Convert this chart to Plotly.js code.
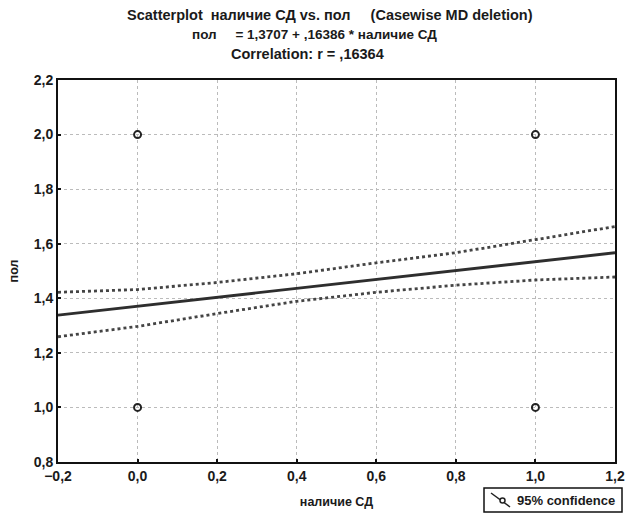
<!DOCTYPE html>
<html>
<head>
<meta charset="utf-8">
<script src="https://cdn.plot.ly/plotly-3.0.1.min.js"></script>
<style>html,body{margin:0;padding:0;background:#fff;}#chart{width:626px;height:517px;}</style>
</head>
<body>
<div id="chart"></div>
<script>
// Data
const pointsX = [0, 0, 1, 1];
const pointsY = [1.0, 2.0, 1.0, 2.0];
const regX = [-0.2, 1.2];
const regY = [1.338, 1.567];
const bandX = [-0.2, 0.0, 0.2, 0.4, 0.6, 0.8, 1.0, 1.2];
const bandUpper = [1.422, 1.432, 1.458, 1.490, 1.530, 1.567, 1.615, 1.663];
const bandLower = [1.259, 1.297, 1.344, 1.389, 1.422, 1.448, 1.467, 1.478];
const xTicks = [-0.2, 0.0, 0.2, 0.4, 0.6, 0.8, 1.0, 1.2];
const yTicks = [0.8, 1.0, 1.2, 1.4, 1.6, 1.8, 2.0, 2.2];
const NB = "\u00a0";
const titleLines = [
  "Scatterplot" + NB + " наличие СД vs. пол" + NB.repeat(4) + " (Casewise MD deletion)",
  "пол" + NB.repeat(4) + " = 1,3707 + ,16386 * наличие СД",
  "Correlation: r = ,16364"
];
const xTitle = "наличие СД";
const yTitle = "пол";
const legendLabel = "95% confidence";

const FAM = "Liberation Sans, Arial, sans-serif";
const fnt = {family: FAM, size: 13.5, color: "#1a1a1a", weight: "bold"};
const bandColor = "#444";

const traces = [
  {x: bandX, y: bandUpper, mode: "lines", line: {color: bandColor, width: 2.8, dash: "dot"},
   name: legendLabel, showlegend: false, hoverinfo: "skip"},
  {x: bandX, y: bandLower, mode: "lines", line: {color: bandColor, width: 2.8, dash: "dot"},
   showlegend: false, hoverinfo: "skip"},
  {x: regX, y: regY, mode: "lines", line: {color: "#2e2e2e", width: 2.8}, showlegend: false},
  {x: pointsX, y: pointsY, mode: "markers", showlegend: false,
   marker: {symbol: "circle-open", size: 7, color: "#222", line: {width: 2, color: "#222"}}}
];

// pixel -> paper helpers (plot area 58..615 x 80..462)
const px = v => (v - 58) / 557;
const py = v => (462 - v) / 382;

const titleX = [330, 314, 307];
const titleY = [15, 35, 54];
const titleSize = [14.5, 13.5, 14.5];
const annotations = titleLines.map((t, i) => ({
  text: t, xref: "paper", yref: "paper", x: px(titleX[i]), y: py(titleY[i]),
  xanchor: "center", yanchor: "middle", showarrow: false,
  font: {family: FAM, size: titleSize[i], color: "#1a1a1a", weight: "bold"}
}));
annotations.push({
  text: legendLabel, xref: "paper", yref: "paper", x: px(515), y: py(500),
  xanchor: "left", yanchor: "middle", showarrow: false,
  font: {family: FAM, size: 13, color: "#1a1a1a", weight: "bold"}
});

const shapes = [
  {type: "rect", xref: "paper", yref: "paper", x0: px(484), x1: px(622), y0: py(488), y1: py(512),
   line: {color: "#111", width: 1.5}, fillcolor: "#fff"},
  {type: "line", xref: "paper", yref: "paper", x0: px(491), x1: px(510), y0: py(493), y1: py(507),
   line: {color: "#222", width: 1.5}},
  {type: "circle", xref: "paper", yref: "paper", x0: px(500), x1: px(505), y0: py(498), y1: py(503),
   line: {color: "#222", width: 1.5}, fillcolor: "#fff"}
];

const axisCommon = {
  showline: true, linecolor: "#111", linewidth: 2, mirror: true,
  showgrid: true, gridcolor: "#bbb", griddash: "dot", gridwidth: 1,
  zeroline: false, ticks: "inside", ticklen: 3, tickcolor: "#111", tickwidth: 2,
  tickformat: ".1f", tickfont: {family: FAM, size: 14, color: "#1a1a1a", weight: "bold"}
};

const layout = {
  width: 626, height: 517,
  margin: {l: 58, r: 11, t: 80, b: 55, autoexpand: false},
  paper_bgcolor: "#fff", plot_bgcolor: "#fff",
  separators: ", ",
  font: fnt,
  xaxis: Object.assign({}, axisCommon, {range: [-0.2, 1.2], tickvals: xTicks, automargin: false,
    title: {text: xTitle, font: {family: FAM, size: 12.5, color: "#1a1a1a", weight: "bold"}, standoff: 14}}),
  yaxis: Object.assign({}, axisCommon, {range: [0.8, 2.2], tickvals: yTicks, automargin: false,
    title: {text: yTitle, font: {family: FAM, size: 12.5, color: "#1a1a1a", weight: "bold"}, standoff: 12}}),
  showlegend: false,
  annotations: annotations,
  shapes: shapes
};

Plotly.newPlot("chart", traces, layout, {displayModeBar: false, staticPlot: true});
</script>
</body>
</html>
